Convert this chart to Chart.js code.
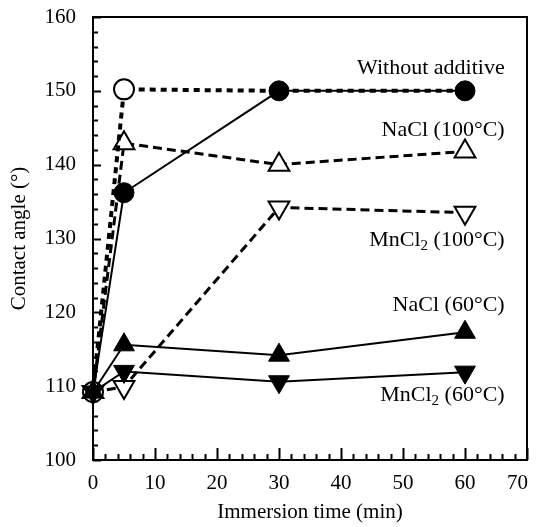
<!DOCTYPE html>
<html>
<head>
<meta charset="utf-8">
<script src="https://cdn.jsdelivr.net/npm/chart.js@4.4.1/dist/chart.umd.min.js"></script>
<style>
  html, body { margin: 0; padding: 0; background: #fff; }
  #wrap { width: 541px; height: 527px; }
</style>
</head>
<body>
<div id="wrap"><canvas id="contact-angle-chart" width="541" height="527"></canvas></div>
<script>
// immersion time (min)
var times = [0, 5, 30, 60];

// contact angle (deg) per series
var withoutOpen = [109.2, 150.2, 150, 150];
var withoutFilled = [109.2, 136.2, 150, 150];
var nacl100 = [109.2, 142.9, 140, 141.8];
var mncl100 = [109.2, 109.9, 134.2, 133.5];
var nacl60 = [109.2, 115.6, 114.2, 117.3];
var mncl60 = [109.2, 112.0, 110.6, 111.9];

var xTicks = [0, 10, 20, 30, 40, 50, 60, 70];
var yTicks = [100, 110, 120, 130, 140, 150, 160];

// series labels, anchored in data units (right edge x, middle y)
var seriesLabels = [
	{ main: 'Without additive', sub: '', rest: '', x: 66.4, y: 153.1 },
	{ main: 'NaCl (100°C)', sub: '', rest: '', x: 66.4, y: 144.7 },
	{ main: 'MnCl', sub: '2', rest: ' (100°C)', x: 66.4, y: 129.8 },
	{ main: 'NaCl (60°C)', sub: '', rest: '', x: 66.4, y: 121.0 },
	{ main: 'MnCl', sub: '2', rest: ' (60°C)', x: 66.4, y: 108.8 }
];

var serif = "'Liberation Serif', 'Times New Roman', serif";

function toPoints(ys) {
	var pts = [];
	for (var i = 0; i < times.length; i++) {
		pts.push({ x: times[i], y: ys[i] });
	}
	return pts;
}

var frameAndTicks = {
	id: 'frameAndTicks',
	afterDatasetsDraw: function(chart) {
		var ctx = chart.ctx;
		var area = chart.chartArea;
		var xs = chart.scales.x;
		var ys = chart.scales.y;
		ctx.save();
		ctx.strokeStyle = '#000';
		ctx.lineWidth = 2;
		// inward ticks on the bottom axis
		for (var v = 0; v <= 70; v += 2) {
			var px = Math.round(xs.getPixelForValue(v)) + 0.5;
			var len = (v % 10 === 0) ? 12 : 6;
			ctx.beginPath();
			ctx.moveTo(px, area.bottom);
			ctx.lineTo(px, area.bottom - len);
			ctx.stroke();
		}
		// inward ticks on the left axis
		for (var w = 100; w <= 160; w += 2) {
			var py = Math.round(ys.getPixelForValue(w)) + 0.5;
			var l2 = (w % 10 === 0) ? 8 : 5;
			ctx.beginPath();
			ctx.moveTo(area.left, py);
			ctx.lineTo(area.left + l2, py);
			ctx.stroke();
		}
		ctx.strokeRect(area.left, area.top, area.right - area.left, area.bottom - area.top);

		ctx.fillStyle = '#000';
		ctx.textBaseline = 'middle';
		ctx.textAlign = 'center';

		// x tick labels (last one kept inside the frame, as in the figure)
		ctx.font = '21px ' + serif;
		for (var k = 0; k < xTicks.length; k++) {
			var txt = String(xTicks[k]);
			var tw = ctx.measureText(txt).width;
			var cx = Math.min(xs.getPixelForValue(xTicks[k]), area.right + 1 - tw / 2);
			ctx.fillText(txt, cx, area.bottom + 23);
		}

		// series labels
		ctx.textAlign = 'left';
		for (var i = 0; i < seriesLabels.length; i++) {
			var lb = seriesLabels[i];
			var big = '22px ' + serif;
			var small = '15px ' + serif;
			ctx.font = big;
			var w1 = ctx.measureText(lb.main).width;
			var w3 = ctx.measureText(lb.rest).width;
			ctx.font = small;
			var w2 = lb.sub ? ctx.measureText(lb.sub).width : 0;
			var right = xs.getPixelForValue(lb.x);
			var cy = ys.getPixelForValue(lb.y);
			var sx = right - (w1 + w2 + w3);
			ctx.font = big;
			ctx.fillText(lb.main, sx, cy);
			if (lb.sub) {
				ctx.font = small;
				ctx.fillText(lb.sub, sx + w1, cy + 6);
				ctx.font = big;
				ctx.fillText(lb.rest, sx + w1 + w2, cy);
			}
		}
		ctx.restore();
	}
};

var ctx = document.getElementById('contact-angle-chart').getContext('2d');
var chart = new Chart(ctx, {
	type: 'line',
	data: {
		datasets: [
			{
				label: 'NaCl (60°C)',
				data: toPoints(nacl60),
				borderColor: '#000',
				borderWidth: 2,
				pointStyle: 'triangle',
				pointRadius: 12,
				pointBorderWidth: 1,
				pointBackgroundColor: '#000',
				pointBorderColor: '#000'
			},
			{
				label: 'MnCl2 (60°C)',
				data: toPoints(mncl60),
				borderColor: '#000',
				borderWidth: 2,
				pointStyle: 'triangle',
				rotation: 180,
				pointRadius: 12,
				pointBorderWidth: 1,
				pointBackgroundColor: '#000',
				pointBorderColor: '#000'
			},
			{
				label: 'Without additive (open)',
				data: toPoints(withoutOpen),
				borderColor: '#000',
				borderWidth: 4,
				borderDash: [6, 5],
				pointStyle: 'circle',
				pointRadius: function(c) { return c.dataIndex < 2 ? 10 : 0; },
				pointBorderWidth: 2,
				pointBackgroundColor: '#fff',
				pointBorderColor: '#000'
			},
			{
				label: 'MnCl2 (100°C)',
				data: toPoints(mncl100),
				borderColor: '#000',
				borderWidth: 3,
				borderDash: [9, 5],
				pointStyle: 'triangle',
				rotation: 180,
				pointRadius: 12,
				pointBorderWidth: 2,
				pointBackgroundColor: '#fff',
				pointBorderColor: '#000'
			},
			{
				label: 'NaCl (100°C)',
				data: toPoints(nacl100),
				borderColor: '#000',
				borderWidth: 3,
				borderDash: [9, 5],
				pointStyle: 'triangle',
				pointRadius: 12,
				pointBorderWidth: 2,
				pointBackgroundColor: '#fff',
				pointBorderColor: '#000'
			},
			{
				label: 'Without additive',
				data: toPoints(withoutFilled),
				borderColor: '#000',
				borderWidth: 2,
				pointStyle: 'circle',
				pointRadius: function(c) { return c.dataIndex > 0 ? 10 : 0; },
				pointBorderWidth: 1,
				pointBackgroundColor: '#000',
				pointBorderColor: '#000'
			}
		]
	},
	options: {
		responsive: false,
		animation: false,
		devicePixelRatio: 1,
		layout: { padding: { top: 17, right: 7, left: 0, bottom: 0 } },
		plugins: {
			legend: { display: false },
			tooltip: { enabled: false }
		},
		elements: { line: { tension: 0, fill: false } },
		datasets: { line: { clip: false } },
		scales: {
			x: {
				type: 'linear',
				min: 0,
				max: 70,
				grid: { display: false, drawTicks: false },
				border: { display: false },
				afterBuildTicks: function(axis) {
					axis.ticks = xTicks.map(function(v) { return { value: v }; });
				},
				afterFit: function(axis) {
					axis.height = 67;
					axis.paddingLeft = 0;
					axis.paddingRight = 0;
				},
				ticks: { display: false },
				title: {
					display: true,
					text: 'Immersion time (min)',
					color: '#000',
					padding: { top: 0, bottom: 2 },
					font: { family: serif, size: 21 }
				}
			},
			y: {
				type: 'linear',
				min: 100,
				max: 160,
				grid: { display: false, drawTicks: false },
				border: { display: false },
				afterBuildTicks: function(axis) {
					axis.ticks = yTicks.map(function(v) { return { value: v }; });
				},
				afterFit: function(axis) {
					axis.width = 93;
					axis.paddingTop = 0;
					axis.paddingBottom = 0;
				},
				ticks: {
					color: '#000',
					padding: 17,
					font: { family: serif, size: 21 }
				},
				title: {
					display: true,
					text: 'Contact angle (°)',
					color: '#000',
					padding: { top: 7, bottom: 0 },
					font: { family: serif, size: 21 }
				}
			}
		}
	},
	plugins: [frameAndTicks]
});
</script>
</body>
</html>
